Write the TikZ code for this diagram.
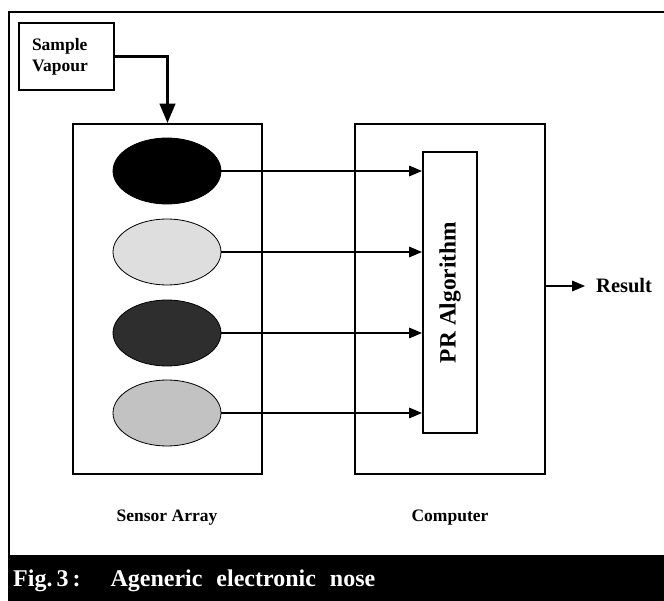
\documentclass[tikz,border=0pt]{standalone}
\usepackage{fontspec}
\setmainfont{Liberation Serif}
\usetikzlibrary{arrows,positioning,shapes.geometric}
\tikzstyle{frame} = [draw, line width=2pt]
\tikzstyle{unit} = [draw, line width=2.4pt, minimum width=189pt, minimum height=350pt]
\tikzstyle{inputdata} = [draw, line width=2.2pt, minimum width=95pt, minimum height=67pt, text width=69pt, align=left, font=\fontsize{17.5}{21}\selectfont\bfseries]
\tikzstyle{algo} = [draw, line width=2pt, minimum width=54pt, minimum height=281pt]
\tikzstyle{sensor} = [draw, ellipse, line width=0.8pt, minimum width=108pt, minimum height=66pt, inner sep=0pt]
\tikzstyle{caption} = [font=\fontsize{17.5}{20}\selectfont\bfseries]
\tikzstyle{arrow} = [draw, line width=2pt, -triangle 45]
\tikzstyle{feed} = [draw, line width=3.6pt, -triangle 45]
\newcommand{\sensor}[3]{node (e#1) [sensor, fill=#2] at (167,#3) {}}

\begin{document}
\begin{tikzpicture}[x=1pt,y=-1pt]
\useasboundingbox (0,0) rectangle (664,601);
\draw[frame] (9,12) rectangle (672,556);
\fill[black] (8,556) rectangle (664,601);
\node[anchor=west, text=white, font=\fontsize{24}{26}\selectfont\bfseries, inner sep=0pt] (fig) at (13,581)
  {Fig.\,3\,:\hspace{30pt}Ageneric\hspace{14pt}electronic\hspace{14pt}nose};

\node (sv) [inputdata] at (66.5,56.5) {Sample\\[0pt]Vapour\\[9pt]};
\node (sa) [unit] at (167.5,299) {};
\node (cp) [unit, minimum width=190pt] at (450,299) {};
\node (pr) [algo] at (450,292.5) {};
\node[rotate=90, font=\fontsize{23.4}{26}\selectfont\bfseries] (prt) at (pr) {PR Algorithm};

% sensors
\path \sensor{1}{black}{171};
\path \sensor{2}{black!13}{252};
\path \sensor{3}{black!82}{333};
\path \sensor{4}{black!24}{413};

\foreach \i in {1,...,4}
  \path [arrow] (e\i.east) -- (pr.west |- e\i);

\path [feed] (sv.east) -| (sa.north);

\node[font=\fontsize{20.5}{24}\selectfont\bfseries, anchor=west, inner sep=0pt] (res) at (596,286) {Result};
\path [arrow] (cp.east |- res) -- ([xshift=-11pt]res.west);

\node[caption] (sal) at (167,518) {Sensor Array};
\node[caption] (cpl) at (450,518) {Computer};
\end{tikzpicture}
\end{document}
